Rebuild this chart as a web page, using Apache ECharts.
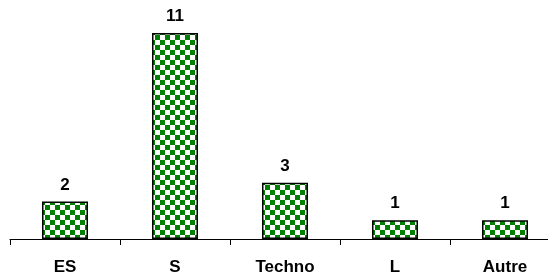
<!DOCTYPE html>
<html>
<head>
<meta charset="utf-8">
<title>chart</title>
<script src="https://cdn.jsdelivr.net/npm/echarts@6/dist/echarts.min.js"></script>
<style>
  html, body { margin: 0; padding: 0; background: #fff; overflow: hidden; }
  /* le graphique déborde un peu à droite, comme l'original rogné */
  #chart { width: 560px; height: 277px; }
</style>
</head>
<body>
<div id="chart"></div>
<script>
  var categories = ['ES', 'S', 'Techno', 'L', 'Autre'];
  var values = [2, 11, 3, 1, 1];

  // damier vert / blanc
  var cv = document.createElement('canvas');
  cv.width = 10; cv.height = 10;
  var ctx = cv.getContext('2d');
  ctx.fillStyle = '#fff';
  ctx.fillRect(0, 0, 10, 10);
  ctx.fillStyle = '#008000';
  ctx.fillRect(0, 0, 5, 5);
  ctx.fillRect(5, 5, 5, 5);

  var chart = echarts.init(document.getElementById('chart'));
  chart.setOption({
    animation: false,
    grid: { left: 10, right: 0, top: 33, bottom: 38, containLabel: false },
    xAxis: {
      type: 'category',
      data: categories,
      axisLine: { lineStyle: { color: '#000', width: 1 } },
      axisTick: { show: true, length: 6, lineStyle: { color: '#000' } },
      axisLabel: {
        color: '#000', fontSize: 17, fontWeight: 'bold',
        fontFamily: 'Liberation Sans, Arial, sans-serif', margin: 20
      }
    },
    yAxis: {
      type: 'value', min: 0, max: 11, show: false,
      splitLine: { show: false }
    },
    series: [{
      type: 'bar',
      data: values,
      barWidth: 46,
      itemStyle: {
        color: { image: cv, repeat: 'repeat' },
        borderColor: '#000',
        borderWidth: 1.5
      },
      label: {
        show: true, position: 'top', distance: 8,
        color: '#000', fontSize: 17, fontWeight: 'bold',
        fontFamily: 'Liberation Sans, Arial, sans-serif'
      }
    }]
  });
</script>
</body>
</html>
